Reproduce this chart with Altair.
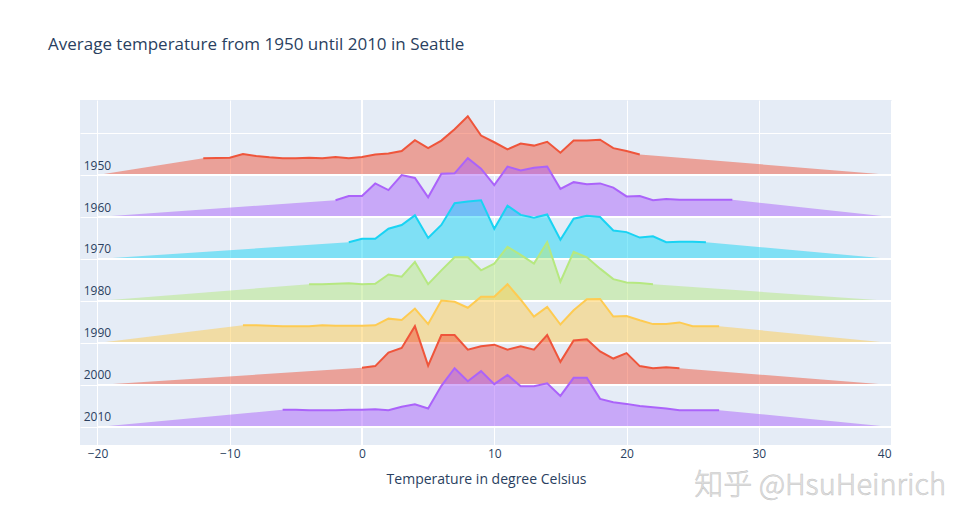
import altair as alt
import pandas as pd

# ---------------- data ----------------
years = [1950, 1960, 1970, 1980, 1990, 2000, 2010]
line_colors = ["#EF553B", "#ab63fa", "#19d3f3", "#B6E880", "#FECB52", "#EF553B", "#ab63fa"]

temps_1950 = [-12, -10, -9, -8, -7, -6, -5, -4, -3, -2, -1, 0, 1, 2, 3, 4, 5, 6, 7, 8, 9,
              10, 11, 12, 13, 14, 15, 16, 17, 18, 19, 20, 21]
freq_1950 = [0.0, 0.01, 0.10, 0.05, 0.02, 0.0, 0.0, 0.01, 0.0, 0.03, 0.0, 0.03, 0.09, 0.11,
             0.17, 0.43, 0.24, 0.42, 0.69, 1.0, 0.54, 0.38, 0.21, 0.35, 0.30, 0.39, 0.13,
             0.42, 0.42, 0.44, 0.24, 0.17, 0.09]

temps_1960 = [-2, -1, 0, 1, 2, 3, 4, 5, 6, 7, 8, 9, 10, 11, 12, 13, 14, 15, 16, 17, 18, 19,
              20, 21, 22, 23, 24, 28]
freq_1960 = [0.0, 0.10, 0.10, 0.40, 0.24, 0.60, 0.53, 0.07, 0.63, 0.64, 1.0, 0.75, 0.36,
             0.80, 0.71, 0.77, 0.80, 0.27, 0.43, 0.38, 0.40, 0.30, 0.09, 0.10, 0.0, 0.03,
             0.01, 0.01]

temps_1970 = [-1, 0, 1, 2, 3, 4, 5, 6, 7, 8, 9, 10, 11, 12, 13, 14, 15, 16, 17, 18, 19, 20,
              21, 22, 23, 24, 25, 26]
freq_1970 = [0.0, 0.08, 0.08, 0.32, 0.41, 0.64, 0.10, 0.41, 0.93, 0.97, 1.0, 0.32, 0.87,
             0.65, 0.58, 0.66, 0.06, 0.56, 0.63, 0.60, 0.28, 0.24, 0.11, 0.14, 0.0, 0.01,
             0.01, 0.0]

temps_1980 = [-4, -3, -2, -1, 0, 1, 2, 3, 4, 5, 6, 7, 8, 9, 10, 11, 12, 13, 14, 15, 16, 17,
              18, 19, 20, 21, 22]
freq_1980 = [0.0, 0.0, 0.01, 0.02, 0.0, 0.01, 0.23, 0.18, 0.53, 0.0, 0.33, 0.64, 0.64, 0.33,
             0.49, 0.89, 0.70, 0.49, 1.0, 0.06, 0.77, 0.64, 0.37, 0.12, 0.04, 0.03, 0.0]

temps_1990 = [-9, -8, -7, -6, -5, -4, -3, -2, -1, 0, 1, 2, 3, 4, 5, 6, 7, 8, 9, 10, 11, 12,
              13, 14, 15, 16, 17, 18, 19, 20, 21, 22, 23, 24, 25, 26, 27]
freq_1990 = [0.02, 0.02, 0.01, 0.0, 0.0, 0.0, 0.02, 0.01, 0.01, 0.01, 0.02, 0.18, 0.15, 0.42,
             0.05, 0.61, 0.58, 0.44, 0.70, 0.70, 1.0, 0.63, 0.23, 0.46, 0.04, 0.38, 0.64,
             0.65, 0.23, 0.24, 0.14, 0.05, 0.05, 0.09, 0.0, 0.0, 0.0]

temps_2000 = [0, 1, 2, 3, 4, 5, 6, 7, 8, 9, 10, 11, 12, 13, 14, 15, 16, 17, 18, 19, 20, 21,
              22, 23, 24]
freq_2000 = [0.01, 0.05, 0.37, 0.48, 1.0, 0.06, 0.79, 0.79, 0.44, 0.52, 0.56, 0.44, 0.52,
             0.44, 0.79, 0.15, 0.66, 0.69, 0.40, 0.23, 0.36, 0.05, 0.0, 0.02, 0.0]

temps_2010 = [-6, -5, -4, -3, -2, -1, 0, 1, 2, 3, 4, 5, 6, 7, 8, 9, 10, 11, 12, 13, 14, 15,
              16, 17, 18, 19, 20, 21, 22, 23, 24, 25, 26, 27]
freq_2010 = [0.01, 0.01, 0.0, 0.0, 0.0, 0.01, 0.01, 0.02, 0.0, 0.08, 0.14, 0.04, 0.58, 1.0,
             0.69, 0.93, 0.62, 0.84, 0.57, 0.57, 0.64, 0.34, 0.77, 0.77, 0.27, 0.19, 0.15,
             0.10, 0.07, 0.04, 0.0, 0.0, 0.0, 0.0]

all_temps = [temps_1950, temps_1960, temps_1970, temps_1980, temps_1990, temps_2000, temps_2010]
all_freqs = [freq_1950, freq_1960, freq_1970, freq_1980, freq_1990, freq_2000, freq_2010]

baseline_x = [-20, 40]   # x-range of each white baseline trace
lift = 0.4               # ridge lifted above its baseline
x_ticks = [-20, -10, 0, 10, 20, 30, 40]
y_grid = [1, 2, 3, 4, 5, 6, 7, 8]

title_text = "Average temperature from 1950 until 2010 in Seattle"
x_title = "Temperature in degree Celsius"
watermark = "知乎 @HsuHeinrich"

# ---------------- styling ----------------
FONT = "Open Sans"
TXT = "#2a3f5f"
W, H = 812, 345

x_scale = alt.Scale(domain=[-21.32, 40.07], nice=False, zero=False)
y_scale = alt.Scale(domain=[0.571, 8.786], nice=False, zero=False)
x_axis = alt.Axis(values=x_ticks, grid=True, gridColor="white", gridWidth=1,
                  domain=False, ticks=False, labelColor=TXT, labelFontSize=12,
                  labelFont=FONT, labelPadding=3, title=x_title, titleFont=FONT,
                  titleFontSize=14, titleColor=TXT, titleFontWeight="normal",
                  titlePadding=13)
y_axis = alt.Axis(values=y_grid, grid=True, gridColor="white", gridWidth=1,
                  domain=False, ticks=False, labels=False, title=None)


def X(field):
    return alt.X(field, type="quantitative", scale=x_scale, axis=x_axis)


def Y(field):
    return alt.Y(field, type="quantitative", scale=y_scale, axis=y_axis, stack=None)


layers = []

# zero line of x axis
zero_df = pd.DataFrame({"x": [0]})
layers.append(alt.Chart(zero_df).mark_rule(color="white", strokeWidth=2).encode(x=X("x")))

n = len(years)
for i, yr in enumerate(years):
    base = n - i
    col = line_colors[i]
    xs = all_temps[i]
    ys = [base + f + lift for f in all_freqs[i]]
    area_df = pd.DataFrame({
        "x": [baseline_x[0]] + xs + [baseline_x[1]],
        "y": [base] + ys + [base],
        "b": [base] * (len(xs) + 2),
    })
    line_df = pd.DataFrame({"x": xs, "y": ys})
    rule_df = pd.DataFrame({"x": [baseline_x[0]], "x2": [baseline_x[1]], "y": [base]})

    layers.append(alt.Chart(area_df).mark_area(fill=col, fillOpacity=0.5, interpolate="linear")
                  .encode(x=X("x"), y=Y("y"), y2=alt.Y2("b")))
    layers.append(alt.Chart(rule_df).mark_rule(color="white", strokeWidth=2)
                  .encode(x=X("x"), x2=alt.X2("x2"), y=Y("y")))
    layers.append(alt.Chart(line_df).mark_line(color=col, strokeWidth=2, interpolate="linear")
                  .encode(x=X("x"), y=Y("y")))

# year labels (annotations at x=-20, shifted up)
lab_df = pd.DataFrame({"x": [baseline_x[0]] * n, "y": [n - i for i in range(n)],
                       "t": [str(y) for y in years]})
layers.append(alt.Chart(lab_df).mark_text(dy=-9.5, align="center", baseline="middle",
                                          fontSize=12, font=FONT, color=TXT)
              .encode(x=X("x"), y=Y("y"), text="t:N"))

# watermark
wm_df = pd.DataFrame({"t": [watermark]})
layers.append(alt.Chart(wm_df).mark_text(align="right", baseline="middle", fontSize=29,
                                         font="Noto Sans CJK SC", fontWeight=300,
                                         color="#e2e2e2", stroke="#c4c4c4", strokeWidth=0.5)
              .encode(x=alt.value(866), y=alt.value(386), text="t:N"))

chart = alt.layer(*layers).properties(
    width=W, height=H,
    title=alt.TitleParams(title_text, anchor="start", frame="group", dx=-32, offset=45,
                          font=FONT, fontSize=17, fontWeight="normal", color=TXT),
    autosize=alt.AutoSizeParams(type="none"),
    padding={"left": 80, "top": 100, "right": 79, "bottom": 80},
    background="white",
).configure_view(fill="#E5ECF6", stroke=None)

chart.save("out.html", embed_options={"renderer": "svg", "actions": False})
